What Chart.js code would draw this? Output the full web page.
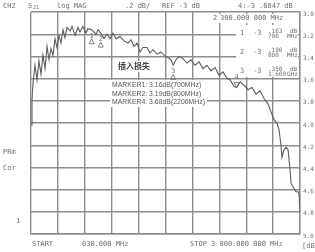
<!DOCTYPE html>
<html>
<head>
<meta charset="utf-8">
<script src="https://cdn.jsdelivr.net/npm/chart.js@4.4.1/dist/chart.umd.min.js"></script>
<style>
  html, body { margin: 0; padding: 0; background: #fff; }
  #wrap { width: 315px; height: 252px; }
</style>
</head>
<body>
<div id="wrap"><canvas id="chart" width="315" height="252"></canvas></div>
<script>
// S21 trace, frequency in MHz and insertion loss in dB
const freqMHz = [30, 41, 52, 74, 96, 118, 140, 162, 185, 207, 229, 251, 273, 295, 317, 339, 361, 383, 405, 427,
  461, 483, 516, 549, 571, 604, 637, 659, 700, 748, 770, 800, 836, 869, 902, 935, 968, 1013, 1057, 1101,
  1134, 1167, 1200, 1233, 1267, 1311, 1344, 1377, 1421, 1465, 1509, 1543, 1576, 1600, 1631, 1664, 1708, 1752, 1797, 1841,
  1885, 1929, 1973, 2017, 2062, 2106, 2150, 2194, 2227, 2271, 2300, 2338, 2382, 2426, 2470, 2514, 2558, 2603, 2647, 2680,
  2713, 2746, 2768, 2790, 2801, 2823, 2846, 2868, 2890, 2901, 2912, 2934, 2956, 2978, 2989, 3000];
const lossDb = [4.02, 3.79, 3.64, 3.48, 3.61, 3.44, 3.56, 3.39, 3.51, 3.31, 3.43, 3.33, 3.39, 3.24, 3.32, 3.21, 3.28, 3.16, 3.23, 3.14,
  3.17, 3.13, 3.21, 3.14, 3.18, 3.13, 3.19, 3.15, 3.16, 3.20, 3.16, 3.19, 3.24, 3.20, 3.24, 3.19, 3.24, 3.22, 3.26, 3.28,
  3.25, 3.31, 3.28, 3.36, 3.32, 3.32, 3.37, 3.34, 3.38, 3.36, 3.40, 3.41, 3.43, 3.48, 3.43, 3.40, 3.42, 3.46, 3.43, 3.48,
  3.45, 3.51, 3.48, 3.53, 3.50, 3.57, 3.54, 3.60, 3.61, 3.67, 3.68, 3.63, 3.66, 3.70, 3.68, 3.74, 3.71, 3.78, 3.83, 3.90,
  3.97, 4.00, 4.06, 4.20, 4.31, 4.24, 4.22, 4.24, 4.42, 4.54, 4.56, 4.59, 4.62, 4.62, 4.64, 4.81];

const yTicks = ['3.0', '3.2', '3.4', '3.6', '3.8', '4.0', '4.2', '4.4', '4.6', '4.8', '5.0'];
const xGridMHz = [30, 327, 624, 921, 1218, 1515, 1812, 2109, 2406, 2703, 3000];

const markerNames = ['1', '2', '3', '4'];
const markerFreq = [700, 800, 1600, 2300];
const markerLoss = [3.16, 3.19, 3.48, 3.68];
const markerNotes = ['MARKER1: 3.16dB(700MHz)', 'MARKER2: 3.19dB(800MHz)', 'MARKER4: 3.68dB(2200MHz)'];
const noteTitle = '插入损失';

const gridColor = '#8c8c8c';
const textColor = '#6e6e6e';

// screen texts of the analyzer
const overlay = {
  id: 'overlay',
  afterDraw(chart) {
    const ctx = chart.ctx;
    const x = chart.scales.x, y = chart.scales.y;
    ctx.save();
    ctx.fillStyle = textColor;
    ctx.textBaseline = 'middle';
    ctx.font = '7px "DejaVu Sans Mono"';

    // header
    ctx.fillText('CH2', 3, 6);
    ctx.fillText('S', 28, 6);
    ctx.font = '5px "DejaVu Sans Mono"';
    ctx.fillText('21', 33, 8);
    ctx.font = '7px "DejaVu Sans Mono"';
    ctx.fillText('log MAG', 57, 6);
    ctx.fillText('.2 dB/', 125, 6);
    ctx.fillText('REF -3 dB', 162, 6);
    ctx.fillText('4:-3 .6847 dB', 238, 6);

    // active marker frequency
    ctx.fillStyle = '#fff';
    ctx.fillRect(211, 14, 88, 9);
    ctx.fillStyle = textColor;
    ctx.fillText('2', 213, 18);
    ctx.fillText('300.000 000 MHz', 220, 18);

    // marker table
    ctx.fillStyle = '#fff';
    ctx.fillRect(236, 25, 62, 52);
    ctx.fillStyle = textColor;
    const rows = [['1', '.163', '700', 'MHz'], ['2', '.190', '800', 'MHz'], ['3', '.350', '1.600', 'GHz']];
    rows.forEach((r, i) => {
      const ry = 33 + i * 19;
      ctx.font = '7px "DejaVu Sans Mono"';
      ctx.fillText(r[0], 240, ry);
      ctx.fillText('-3', 253, ry);
      ctx.font = '6px "DejaVu Sans Mono"';
      ctx.fillText(r[1], 268, ry - 2);
      ctx.fillText(r[2], 268, ry + 3);
      ctx.fillText('dB', 290, ry - 2);
      ctx.fillText(r[3], 287, ry + 3);
    });

    // left labels
    ctx.font = '7px "DejaVu Sans Mono"';
    ctx.fillText('PRm', 3, 152);
    ctx.fillText('Cor', 3, 168);
    ctx.fillText('1', 16, 221);

    // footer
    ctx.fillText('START', 32, 244);
    ctx.fillText('030.000 MHz', 82, 244);
    ctx.fillText('STOP 3 000.000 000 MHz', 190, 244);
    ctx.fillText('[dB', 302, 246);

    // markers on the trace
    markerNames.forEach((name, i) => {
      const px = x.getPixelForValue(markerFreq[i]);
      const py = y.getPixelForValue(markerLoss[i]);
      ctx.strokeStyle = '#666';
      ctx.lineWidth = 0.8;
      ctx.fillStyle = textColor;
      ctx.font = '7px "DejaVu Sans Mono"';
      ctx.textAlign = 'center';
      if (i < 3) {
        ctx.fillText(name, px, py + 6);
        ctx.beginPath();
        ctx.moveTo(px, py + 9);
        ctx.lineTo(px - 2.5, py + 14);
        ctx.lineTo(px + 2.5, py + 14);
        ctx.closePath();
        ctx.stroke();
      } else {
        ctx.fillText(name, px, py - 10);
        ctx.beginPath();
        ctx.moveTo(px, py);
        ctx.lineTo(px - 2.5, py - 5);
        ctx.lineTo(px + 2.5, py - 5);
        ctx.closePath();
        ctx.stroke();
      }
      ctx.textAlign = 'left';
    });

    // annotation
    ctx.font = 'bold 8px "Noto Sans CJK SC"';
    const tw = ctx.measureText(noteTitle).width;
    ctx.fillStyle = '#fff';
    ctx.fillRect(116, 61, tw + 4, 11);
    ctx.fillStyle = '#444';
    ctx.fillText(noteTitle, 118, 66);

    // marker notes, narrow and wide like the screenshot text
    ctx.font = '7.5px "Liberation Sans"';
    let w = 0;
    markerNotes.forEach(t => { w = Math.max(w, ctx.measureText(t).width); });
    const sx = 93 / w;
    ctx.fillStyle = '#fff';
    ctx.fillRect(110, 80, w * sx + 4, 27);
    ctx.fillStyle = '#555';
    markerNotes.forEach((t, i) => {
      ctx.save();
      ctx.translate(112, 85 + i * 8.5);
      ctx.scale(sx, 1);
      ctx.fillText(t, 0, 0);
      ctx.restore();
    });
    ctx.restore();
  }
};

new Chart(document.getElementById('chart'), {
  type: 'line',
  data: {
    datasets: [{
      data: freqMHz.map((f, i) => ({ x: f, y: lossDb[i] })),
      borderColor: '#5c5c5c',
      borderWidth: 1.1,
      pointRadius: 0,
      tension: 0,
      fill: false
    }]
  },
  options: {
    responsive: false,
    animation: false,
    devicePixelRatio: 1,
    layout: { padding: { left: 31, top: 12, right: 0, bottom: 18 } },
    plugins: { legend: { display: false }, tooltip: { enabled: false } },
    scales: {
      x: {
        type: 'linear',
        min: 30,
        max: 3000,
        afterBuildTicks: s => { s.ticks = xGridMHz.map(v => ({ value: v })); },
        afterFit: s => { s.height = 0; },
        ticks: { display: false },
        grid: { color: gridColor, lineWidth: 1.4, drawTicks: false },
        border: { color: gridColor, width: 1.4 }
      },
      y: {
        position: 'right',
        reverse: true,
        min: 3,
        max: 5,
        afterBuildTicks: s => { s.ticks = yTicks.map(v => ({ value: parseFloat(v) })); },
        afterFit: s => { s.width = 15; },
        ticks: {
          callback: (v, i) => yTicks[i],
          color: textColor,
          font: { family: 'DejaVu Sans Mono', size: 6 },
          padding: 3,
          labelOffset: 2
        },
        grid: { color: gridColor, lineWidth: 1.4, drawTicks: false },
        border: { color: gridColor, width: 1.4 }
      }
    }
  },
  plugins: [overlay]
});
</script>
</body>
</html>
